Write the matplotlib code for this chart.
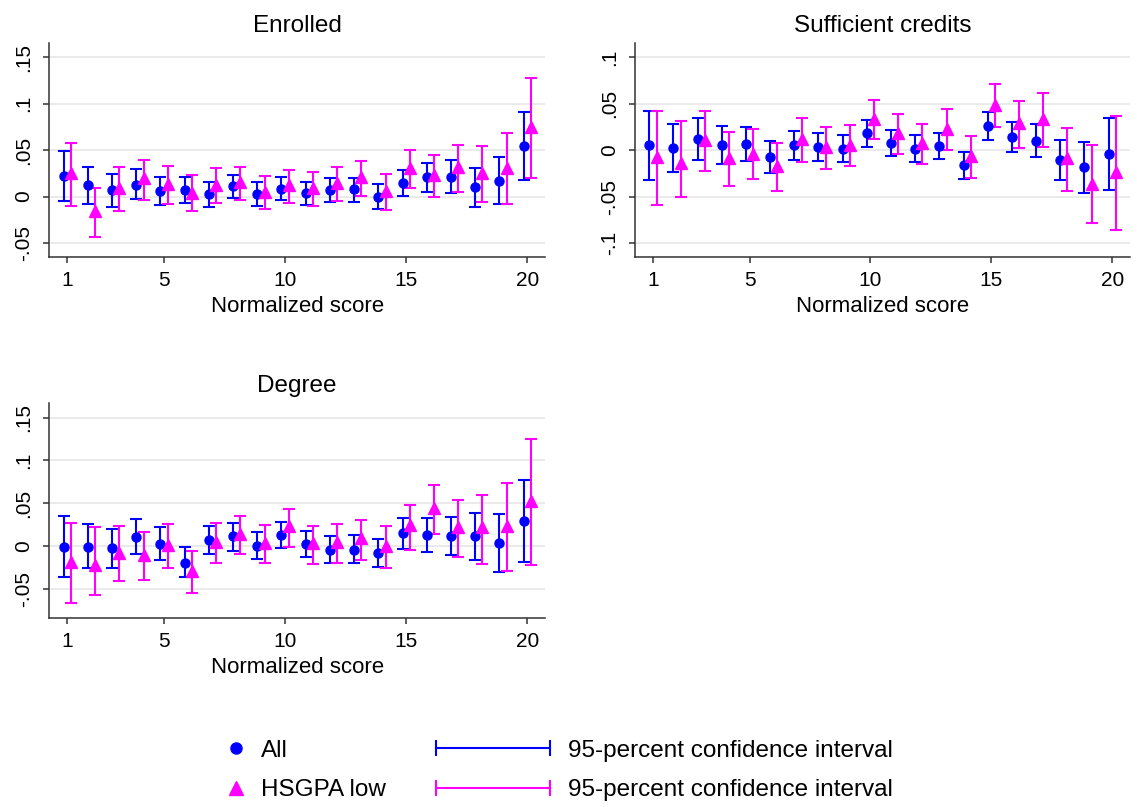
import matplotlib.pyplot as plt
from matplotlib.legend_handler import HandlerLine2D
from matplotlib.lines import Line2D

plt.rcParams["font.family"] = ["Liberation Sans", "DejaVu Sans"]

scores = list(range(1, 21))

# Enrolled
enr_all = [0.022, 0.012, 0.007, 0.013, 0.0065, 0.007, 0.003, 0.011, 0.003, 0.008,
           0.0036, 0.007, 0.008, 0.0, 0.015, 0.021, 0.0216, 0.010, 0.017, 0.054]
enr_all_lo = [-0.005, -0.0076, -0.011, -0.003, -0.0086, -0.007, -0.011, -0.002, -0.0097, -0.004,
              -0.009, -0.006, -0.006, -0.013, 0.0007, 0.005, 0.004, -0.011, -0.008, 0.018]
enr_all_hi = [0.0486, 0.032, 0.0245, 0.0295, 0.0216, 0.0216, 0.016, 0.0237, 0.0155, 0.021,
              0.016, 0.020, 0.0205, 0.0137, 0.029, 0.036, 0.039, 0.031, 0.043, 0.0906]
enr_low = [0.025, -0.016, 0.009, 0.0198, 0.0137, 0.0043, 0.0126, 0.0155, 0.0054, 0.012,
           0.009, 0.015, 0.021, 0.0065, 0.0306, 0.0234, 0.0317, 0.025, 0.031, 0.0748]
enr_low_lo = [-0.010, -0.043, -0.016, -0.004, -0.008, -0.016, -0.007, -0.004, -0.013, -0.0065,
              -0.010, -0.0047, 0.0007, -0.0144, 0.009, 0.0, 0.005, -0.006, -0.008, 0.020]
enr_low_hi = [0.058, 0.009, 0.032, 0.0396, 0.033, 0.023, 0.031, 0.032, 0.022, 0.029,
              0.026, 0.032, 0.0378, 0.0245, 0.050, 0.0446, 0.0558, 0.0547, 0.068, 0.1277]

# Sufficient credits
suf_all = [0.005, 0.0025, 0.0122, 0.0054, 0.0065, -0.0079, 0.005, 0.0036, 0.0014, 0.018,
           0.0072, 0.0011, 0.0047, -0.0162, 0.0259, 0.0144, 0.0097, -0.0108, -0.0187, -0.0047]
suf_all_lo = [-0.032, -0.0237, -0.0108, -0.015, -0.0122, -0.025, -0.011, -0.0115, -0.013, 0.0036,
              -0.0068, -0.0126, -0.0097, -0.031, 0.0104, -0.0022, -0.0079, -0.032, -0.0457, -0.0428]
suf_all_hi = [0.042, 0.0277, 0.035, 0.026, 0.0248, 0.0094, 0.0209, 0.0187, 0.016, 0.032,
              0.0216, 0.0158, 0.018, -0.0018, 0.0407, 0.0306, 0.0277, 0.0104, 0.0083, 0.0342]
suf_low = [-0.007, -0.0137, 0.0108, -0.009, -0.0043, -0.0173, 0.0115, 0.003, 0.005, 0.033,
           0.018, 0.0072, 0.023, -0.0065, 0.0486, 0.0288, 0.0335, -0.009, -0.036, -0.0234]
suf_low_lo = [-0.059, -0.0507, -0.023, -0.0388, -0.0313, -0.0435, -0.013, -0.020, -0.017, 0.0119,
              -0.004, -0.015, 0.0, -0.0295, 0.0248, 0.0025, 0.0036, -0.0435, -0.0784, -0.0863]
suf_low_hi = [0.042, 0.0317, 0.0424, 0.0194, 0.0223, 0.0072, 0.0345, 0.0245, 0.0266, 0.0543,
              0.039, 0.0284, 0.0439, 0.0151, 0.0716, 0.0529, 0.0612, 0.0237, 0.0058, 0.037]

# Degree
deg_all = [-0.0008, -0.0008, -0.003, 0.010, 0.002, -0.0195, 0.0066, 0.011, 0.0, 0.0125,
           0.0023, -0.0047, -0.0043, -0.0086, 0.0145, 0.0125, 0.0117, 0.011, 0.003, 0.0285]
deg_all_lo = [-0.0367, -0.026, -0.0254, -0.010, -0.017, -0.0367, -0.0094, -0.0055, -0.0156, -0.0027,
              -0.0133, -0.0203, -0.0199, -0.025, -0.0035, -0.007, -0.011, -0.016, -0.0309, -0.0191]
deg_all_hi = [0.035, 0.025, 0.020, 0.031, 0.0215, -0.0016, 0.0234, 0.0266, 0.0156, 0.0277,
              0.0176, 0.011, 0.0121, 0.0082, 0.0328, 0.0328, 0.034, 0.0379, 0.0367, 0.0766]
deg_low = [-0.0184, -0.022, -0.0078, -0.0105, 0.0012, -0.029, 0.004, 0.014, 0.003, 0.0227,
           0.003, 0.005, 0.009, 0.0, 0.0246, 0.0441, 0.0219, 0.0219, 0.0234, 0.0527]
deg_low_lo = [-0.067, -0.058, -0.0406, -0.040, -0.026, -0.0547, -0.0195, -0.0094, -0.0195, -0.0008,
              -0.0207, -0.0195, -0.0164, -0.026, -0.0043, 0.0133, -0.0129, -0.0207, -0.0293, -0.0219]
deg_low_hi = [0.027, 0.0219, 0.0227, 0.0164, 0.0258, -0.0063, 0.0266, 0.035, 0.0246, 0.043,
              0.0234, 0.0254, 0.0297, 0.0227, 0.048, 0.0707, 0.0535, 0.0598, 0.0734, 0.1254]

BLUE = "#0000FF"
MAGENTA = "#FF00FF"
GRID = "#E6E6E6"
SPINE = "#333333"


def draw_panel(ax, title, all_pts, all_lo, all_hi, low_pts, low_lo, low_hi,
               yticks, yticklabels, ylim):
    x_all = [s - 0.15 for s in scores]
    x_low = [s + 0.15 for s in scores]
    for xs, pts, lo, hi, col, mk, ms in [
        (x_all, all_pts, all_lo, all_hi, BLUE, "o", 6.5),
        (x_low, low_pts, low_lo, low_hi, MAGENTA, "^", 8),
    ]:
        err = [[p - l for p, l in zip(pts, lo)], [h - p for p, h in zip(pts, hi)]]
        ax.errorbar(xs, pts, yerr=err, fmt=mk, color=col, ms=ms, mec=col,
                    elinewidth=1.5, capsize=4, capthick=1.5, zorder=3)
    ax.set_title(title, fontsize=17.5, pad=8)
    ax.set_xlim(0.26, 20.74)
    ax.set_ylim(*ylim)
    ax.set_xticks([1, 5, 10, 15, 20])
    ax.set_yticks(yticks)
    ax.set_yticklabels(yticklabels, rotation=90, va="center")
    ax.set_xlabel("Normalized score", fontsize=16, labelpad=4.5)
    ax.tick_params(labelsize=15, length=4.5, width=1.1, color=SPINE, pad=5.5)
    ax.tick_params(axis="y", pad=7)
    ax.grid(axis="y", color=GRID, linewidth=1.2)
    ax.set_axisbelow(True)
    for side in ["top", "right"]:
        ax.spines[side].set_visible(False)
    for side in ["left", "bottom"]:
        ax.spines[side].set_color(SPINE)
        ax.spines[side].set_linewidth(1.1)


fig = plt.figure(figsize=(11.37, 8.07), dpi=100)
ax1 = fig.add_axes([0.0434, 0.6815, 0.436, 0.265])
ax2 = fig.add_axes([0.5585, 0.6815, 0.4354, 0.265])
ax3 = fig.add_axes([0.0434, 0.2346, 0.436, 0.266])

ticks_a = [-0.05, 0, 0.05, 0.1, 0.15]
labels_a = ["-.05", "0", ".05", ".1", ".15"]
draw_panel(ax1, "Enrolled", enr_all, enr_all_lo, enr_all_hi,
           enr_low, enr_low_lo, enr_low_hi, ticks_a, labels_a, (-0.065, 0.165))
draw_panel(ax2, "Sufficient credits", suf_all, suf_all_lo, suf_all_hi,
           suf_low, suf_low_lo, suf_low_hi,
           [-0.1, -0.05, 0, 0.05, 0.1], ["-.1", "-.05", "0", ".05", ".1"], (-0.115, 0.115))
draw_panel(ax3, "Degree", deg_all, deg_all_lo, deg_all_hi,
           deg_low, deg_low_lo, deg_low_hi, ticks_a, labels_a, (-0.084, 0.167))

# legend
h_all = Line2D([], [], linestyle="none", marker="o", color=BLUE, ms=8)
h_low = Line2D([], [], linestyle="none", marker="^", color=MAGENTA, ms=10)
h_ci_all = Line2D([], [], color=BLUE, lw=1.5, marker="|", ms=12, mew=1.5)
h_ci_low = Line2D([], [], color=MAGENTA, lw=1.5, marker="|", ms=12, mew=1.5)

fig.legend([h_all, h_low], ["All", "HSGPA low"], loc="center left",
           bbox_to_anchor=(0.1969, 0.0452), frameon=False, fontsize=17.5,
           handlelength=1.0, handletextpad=0.52, labelspacing=0.73,
           borderpad=0, borderaxespad=0)
fig.legend([h_ci_all, h_ci_low], ["95-percent confidence interval"] * 2,
           loc="center left", bbox_to_anchor=(0.3835, 0.0452), frameon=False,
           fontsize=17.5, handlelength=4.69, handletextpad=0.74, labelspacing=0.73,
           borderpad=0, borderaxespad=0,
           handler_map={h_ci_all: HandlerLine2D(numpoints=2, marker_pad=0),
                        h_ci_low: HandlerLine2D(numpoints=2, marker_pad=0)})

fig.savefig("out.png", dpi=100)
